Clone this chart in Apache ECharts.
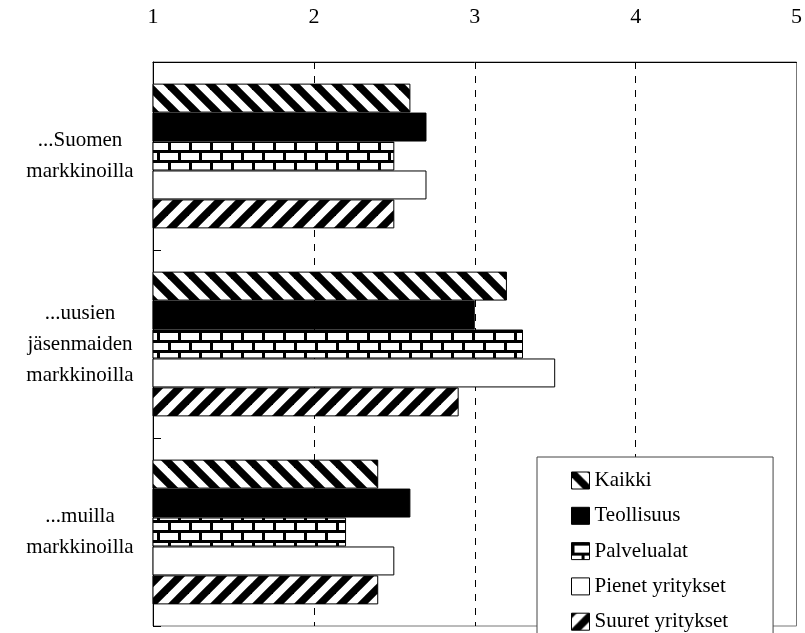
<!DOCTYPE html>
<html>
<head>
<meta charset="utf-8">
<script src="https://cdn.jsdelivr.net/npm/echarts@6/dist/echarts.min.js"></script>
<style>
  html, body { margin: 0; padding: 0; background: #fff; }
  #main { width: 805px; height: 633px; }
</style>
</head>
<body>
<div id="main"></div>
<script>
  // data
  var categories = ['...Suomen\nmarkkinoilla', '...uusien\njäsenmaiden\nmarkkinoilla', '...muilla\nmarkkinoilla'];
  var seriesNames = ['Kaikki', 'Teollisuus', 'Palvelualat', 'Pienet yritykset', 'Suuret yritykset'];
  var kaikki = [2.6, 3.2, 2.4];
  var teollisuus = [2.7, 3.0, 2.6];
  var palvelualat = [2.5, 3.3, 2.2];
  var pienet = [2.7, 3.5, 2.5];
  var suuret = [2.5, 2.9, 2.4];
  var tickValues = [1, 2, 3, 4, 5];

  var FONT = '"Liberation Serif", "Times New Roman", serif';

  // pattern tiles
  function stripes(dir) {
    var p = 21;
    var c = document.createElement('canvas');
    c.width = p; c.height = p;
    var ctx = c.getContext('2d');
    ctx.fillStyle = '#fff';
    ctx.fillRect(0, 0, p, p);
    ctx.strokeStyle = '#000';
    ctx.lineWidth = 7.5;
    for (var o = -p; o <= p; o += p) {
      ctx.beginPath();
      if (dir > 0) { ctx.moveTo(o - p, -p); ctx.lineTo(o + 2 * p, 2 * p); }
      else { ctx.moveTo(o + 2 * p, -p); ctx.lineTo(o - p, 2 * p); }
      ctx.stroke();
    }
    return c;
  }
  function bricks() {
    var w = 21, h = 20;
    var c = document.createElement('canvas');
    c.width = w; c.height = h;
    var ctx = c.getContext('2d');
    ctx.fillStyle = '#fff';
    ctx.fillRect(0, 0, w, h);
    ctx.fillStyle = '#000';
    ctx.fillRect(0, 0, w, 3);
    ctx.fillRect(0, 10, w, 3);
    ctx.fillRect(0, 3, 3, 7);
    ctx.fillRect(10, 13, 3, 7);
    return c;
  }

  var fills = [
    { image: stripes(1), repeat: 'repeat' },
    '#000',
    { image: bricks(), repeat: 'repeat' },
    '#fff',
    { image: stripes(-1), repeat: 'repeat' }
  ];
  var values = [kaikki, teollisuus, palvelualat, pienet, suuret];

  var series = seriesNames.map(function (name, i) {
    return {
      name: name,
      type: 'bar',
      data: values[i],
      barGap: '0%',
      barCategoryGap: '23%',
      itemStyle: { color: fills[i], borderColor: '#000', borderWidth: 1 }
    };
  });

  var myChart = echarts.init(document.getElementById('main'));
  var option = {
    animation: false,
    backgroundColor: '#fff',
    textStyle: { fontFamily: FONT },
    grid: {
      left: 153, right: 5, top: 62, bottom: 7,
      show: true, borderColor: '#777', borderWidth: 1
    },
    legend: {
      orient: 'vertical',
      left: 537,
      top: 457,
      height: 240,
      data: seriesNames,
      backgroundColor: '#fff',
      borderColor: '#444',
      borderWidth: 1,
      padding: [13, 45, 14, 34],
      itemWidth: 18,
      itemHeight: 17,
      itemGap: 14.3,
      icon: 'rect',
      itemStyle: { borderColor: '#000', borderWidth: 1 },
      textStyle: { fontFamily: FONT, fontSize: 21, color: '#000' }
    },
    xAxis: {
      type: 'value',
      position: 'top',
      min: 1,
      max: 5,
      interval: 1,
      axisLine: { show: true, lineStyle: { color: '#000', width: 1 } },
      axisTick: { show: false },
      axisLabel: {
        margin: 34,
        fontSize: 22,
        color: '#000',
        fontFamily: FONT,
        formatter: function (v) { return tickValues.indexOf(v) >= 0 ? String(v) : ''; }
      },
      splitLine: {
        show: true,
        lineStyle: { color: ['#000', '#000', '#000', '#000', '#777'], type: [7, 7], width: 1 }
      }
    },
    yAxis: {
      type: 'category',
      inverse: true,
      data: categories,
      axisLine: { show: true, lineStyle: { color: '#000', width: 1 } },
      axisTick: { show: true, inside: true, length: 8, lineStyle: { color: '#000' } },
      axisLabel: {
        align: 'center',
        margin: 73,
        fontSize: 21,
        lineHeight: 31,
        color: '#000',
        fontFamily: FONT
      }
    },
    series: series
  };
  myChart.setOption(option);
</script>
</body>
</html>
